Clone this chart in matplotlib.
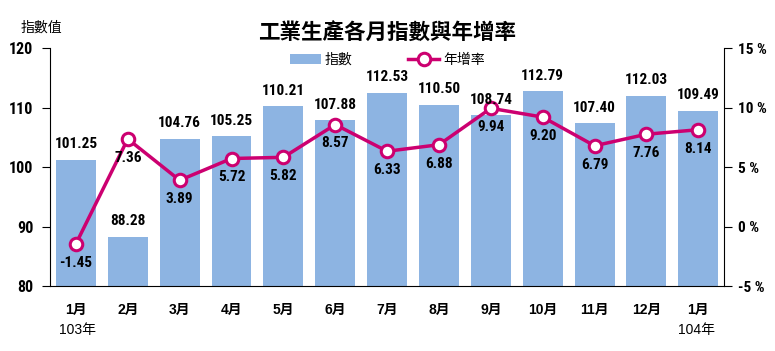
import numpy as np
import matplotlib.pyplot as plt

plt.rcParams['font.family'] = ['Liberation Sans', 'Noto Sans CJK TC', 'DejaVu Sans']

months = ['1月', '2月', '3月', '4月', '5月', '6月', '7月', '8月', '9月', '10月', '11月', '12月', '1月']
index_vals = [101.25, 88.28, 104.76, 105.25, 110.21, 107.88, 112.53, 110.50, 108.74, 112.79, 107.40, 112.03, 109.49]
growth = [-1.45, 7.36, 3.89, 5.72, 5.82, 8.57, 6.33, 6.88, 9.94, 9.20, 6.79, 7.76, 8.14]

bar_color = '#8DB4E2'
line_color = '#CC0070'
narrow = ['Roboto Condensed', 'Arimo', 'Liberation Sans']

fig = plt.figure(figsize=(7.75, 3.51), dpi=100)
ax = fig.add_axes([0.0645, 0.185, 0.87, 0.678])
ax2 = ax.twinx()

x = np.arange(len(months))
ax.bar(x, index_vals, width=0.77, color=bar_color, label='指數', zorder=1)
ax.set_ylim(80, 120)
ax.set_xlim(-0.5, len(months) - 0.5)
ax.set_yticks([80, 90, 100, 110, 120])
ax.set_xticks(x)
ax.set_xticklabels(months, fontweight='bold', fontsize=10)
ax.tick_params(axis='x', length=0, pad=12)
ax.tick_params(axis='y', direction='out', length=6, pad=6)
for lab in ax.get_yticklabels():
    lab.set_fontweight('bold')
    lab.set_fontsize(11.5)
    lab.set_family(narrow)
for s in ['top', 'right']:
    ax.spines[s].set_visible(False)

ax2.plot(x, growth, color=line_color, lw=2.5, marker='o', markersize=9,
         markerfacecolor='white', markeredgecolor=line_color, markeredgewidth=2.2,
         label='年增率', zorder=3)
ax2.set_ylim(-5, 15)
ax2.set_yticks([-5, 0, 5, 10, 15])
ax2.set_yticklabels(['-5 %', '0 %', '5 %', '10 %', '15 %'], fontweight='bold',
                    fontsize=11, family=narrow)
ax2.tick_params(axis='y', direction='out', length=6, pad=4)
for s in ['top', 'left', 'bottom']:
    ax2.spines[s].set_visible(False)

# bar value labels drawn on top of everything
for xi, v in zip(x, index_vals):
    ax2.text(xi, v + 1.4, f'{v:.2f}', transform=ax.transData, ha='center', va='bottom',
             fontsize=11, fontweight='bold', family=narrow, zorder=5)

for xi, g in zip(x, growth):
    ax2.text(xi, g - 1.0, f'{g:.2f}', ha='center', va='top', fontsize=11,
             fontweight='bold', family=narrow, zorder=5)

ax.set_zorder(ax2.get_zorder() - 1)
ax.patch.set_visible(False)

fig.text(0.5, 0.905, '工業生產各月指數與年增率', ha='center', va='center', fontsize=15.5,
         fontweight='bold', family=['Noto Sans CJK TC'])
fig.text(0.026, 0.92, '指數值', ha='left', va='center', fontsize=10, family=['Noto Sans CJK TC'])
fig.text(0.1, 0.06, '103年', ha='center', va='center', fontsize=10, family=['Liberation Sans', 'Noto Sans CJK TC'])
fig.text(0.899, 0.06, '104年', ha='center', va='center', fontsize=10, family=['Liberation Sans', 'Noto Sans CJK TC'])

h1, l1 = ax.get_legend_handles_labels()
h2, l2 = ax2.get_legend_handles_labels()
fig.legend(h1 + h2, l1 + l2, loc='center', bbox_to_anchor=(0.5, 0.83), ncol=2, frameon=False,
           handlelength=2.2, handletextpad=0.3, columnspacing=4,
           prop={'family': ['Noto Sans CJK TC'], 'size': 10})

fig.savefig('out.png', dpi=100)
